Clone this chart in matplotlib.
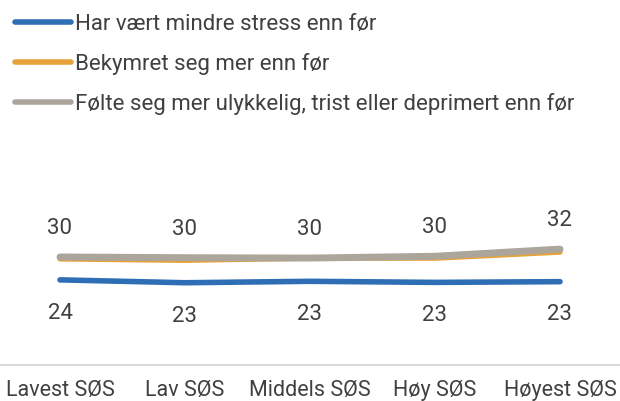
import numpy as np
import matplotlib.pyplot as plt

plt.rcParams['font.family'] = ['Roboto', 'DejaVu Sans']

categories = ["Lavest SØS", "Lav SØS", "Middels SØS", "Høy SØS", "Høyest SØS"]
stress = [23.8, 23.0, 23.4, 23.1, 23.3]
bekymret = [29.7, 29.3, 29.9, 29.9, 31.6]
ulykkelig = [30.2, 30.0, 29.9, 30.4, 32.4]

names = ["Har vært mindre stress enn før",
         "Bekymret seg mer enn før",
         "Følte seg mer ulykkelig, trist eller deprimert enn før"]
colors = ["#2e6eb5", "#e6a23a", "#aca59c"]
txt = "#404040"
fs = 16

fig = plt.figure(figsize=(6.2, 4.01), dpi=100)
ax = fig.add_axes([0, 36 / 401, 1, 245 / 401])

x = np.arange(len(categories))
l1, = ax.plot(x, stress, color=colors[0], lw=4, solid_capstyle='round', zorder=3)
l2, = ax.plot(x, bekymret, color=colors[1], lw=4, solid_capstyle='round', zorder=3)
l3, = ax.plot(x, ulykkelig, color=colors[2], lw=5, solid_capstyle='round', zorder=4)

# labels: gray above, blue below
for xi, v in zip(x, ulykkelig):
    ax.annotate(f"{round(v)}", (xi, v), xytext=(0, 20.5), textcoords='offset points',
                ha='center', va='center', fontsize=16, color=txt)
for xi, v in zip(x, stress):
    ax.annotate(f"{round(v)}", (xi, v), xytext=(0, -24), textcoords='offset points',
                ha='center', va='center', fontsize=16, color=txt)

ax.set_xlim(-0.48, 4.48)
ax.set_ylim(0, 68.5)
ax.set_xticks(x)
ax.set_xticklabels(categories, fontsize=15.5, color=txt)
ax.tick_params(axis='x', length=0, pad=10.5)
ax.set_yticks([])
for s in ['top', 'right', 'left']:
    ax.spines[s].set_visible(False)
ax.spines['bottom'].set_color('#d9d9d9')
ax.spines['bottom'].set_linewidth(1.5)

leg = fig.legend([l1, l2, l3], names, loc='upper left', bbox_to_anchor=(0.005, 0.995),
                 frameon=False, fontsize=fs, handlelength=2.5, handletextpad=0.2,
                 labelspacing=0.8, borderaxespad=0.15)
for t in leg.get_texts():
    t.set_color(txt)
for h in leg.get_lines():
    h.set_linewidth(4)
    h.set_solid_capstyle('round')

fig.savefig("out.png", dpi=100)
